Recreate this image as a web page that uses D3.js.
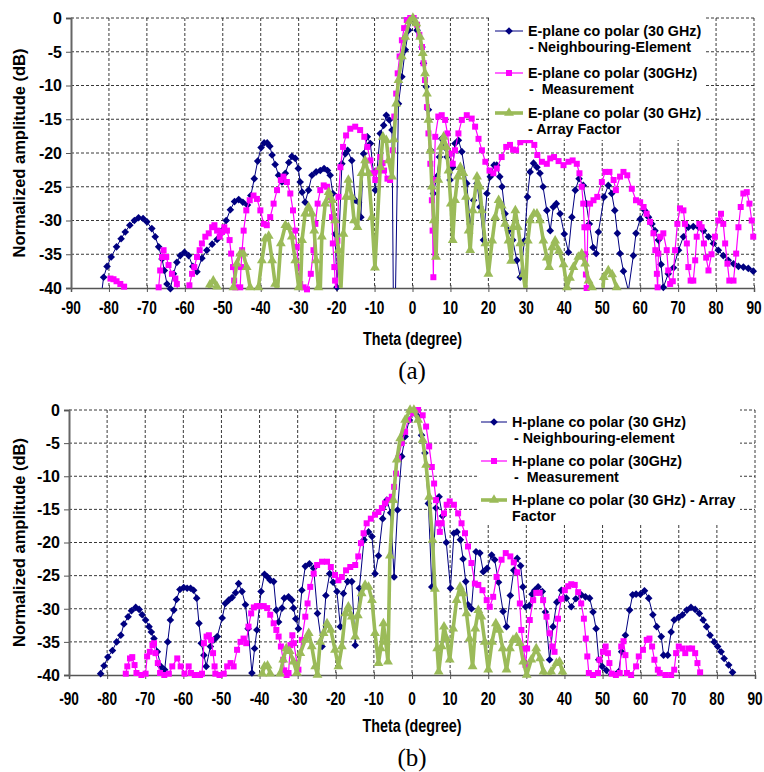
<!DOCTYPE html>
<html>
<head>
<meta charset="utf-8">
<script src="https://cdn.jsdelivr.net/npm/d3@7"></script>
<style>
  body { margin: 0; background: #fff; }
  svg text { font-family: "Liberation Sans", Arial, sans-serif; font-weight: bold; fill: #000; }
  .caption { font-family: "Liberation Serif", "Times New Roman", serif; font-weight: normal; }
</style>
</head>
<body>
<svg id="chart" width="764" height="772"></svg>
<script>
const thetaTicks = d3.range(-90, 91, 10);
const dbTicks = [0, -5, -10, -15, -20, -25, -30, -35, -40];

// (a) E-plane, [theta (deg), amplitude (dB)]
const eNeighbour = [
  [-82.0,-41],[-81.4,-38.4],[-80.5,-36.8],[-79.4,-35.4],[-78.0,-33.9],[-76.8,-32.7],[-75.7,-31.7],
  [-74.5,-30.7],[-73.3,-30.0],[-72.2,-29.6],[-71.0,-29.7],[-70.0,-30.2],[-68.7,-31.2],[-67.8,-32.4],
  [-66.9,-33.9],[-66.0,-35.7],[-65.4,-37.4],[-64.7,-39.4],[-63.8,-40.1],[-63.0,-37.9],[-62.1,-36.2],
  [-61.2,-35.2],[-60.1,-34.7],[-59.0,-35.2],[-57.9,-36.8],[-56.8,-37.6],[-55.5,-35.6],[-54.2,-34.4],
  [-52.8,-33.5],[-51.5,-32.8],[-50.2,-31.5],[-49.1,-30.0],[-48.0,-28.4],[-46.9,-27.2],[-45.8,-26.9],
  [-44.7,-27.3],[-43.5,-27.7],[-42.6,-26.3],[-41.7,-23.8],[-40.8,-21.2],[-39.9,-19.2],[-39.1,-18.5],
  [-38.3,-18.5],[-37.6,-19.0],[-37.0,-20.3],[-36.2,-21.7],[-35.3,-23.3],[-34.4,-24.3],[-33.5,-23.0],
  [-32.6,-21.4],[-31.8,-20.5],[-30.9,-20.8],[-30.1,-22.3],[-29.6,-24.3],[-29.1,-25.8],[-28.3,-27.3],
  [-27.4,-25.5],[-26.5,-23.3],[-25.4,-22.8],[-24.3,-22.6],[-23.3,-22.3],[-22.4,-22.6],[-21.7,-23.3],
  [-21.0,-26.0],[-20.4,-32.0],[-19.9,-39.9],[-18.6,-21.6],[-17.7,-20.1],[-17.1,-19.6],[-16.0,-21.1],
  [-15.1,-27.0],[-14.2,-27.3],[-13.6,-29.5],[-12.9,-20.1],[-11.9,-17.6],[-11.1,-18.6],[-9.8,-25.5],
  [-8.5,-17.1],[-7.6,-15.9],[-6.9,-14.4],[-6.1,-15.1],[-5.4,-16.6],[-5.0,-45],[-4.6,-45],[-3.7,-12.7],
  [-2.8,-8.7],[-1.9,-4.7],[-1.0,-1.8],[-0.2,-0.3],[1.2,-1.8],[2.5,-4.3],[2.9,-6.7],[3.6,-10.2],
  [4.2,-13.6],[4.8,-19.6],[5.5,-26.0],[6.4,-23.5],[7.1,-20.6],[7.7,-17.9],[8.4,-19.1],[9.1,-20.6],
  [9.9,-24.0],[10.6,-22.1],[11.2,-18.6],[12.1,-18.1],[13.0,-19.8],[14.3,-24.5],[15.2,-30.5],
  [16.1,-27.0],[17.0,-24.5],[17.8,-28.0],[18.7,-32.9],[19.6,-26.0],[20.5,-23.5],[21.5,-21.8],
  [22.2,-21.8],[23.0,-23.5],[23.6,-25.0],[24.4,-29.0],[25.3,-31.5],[26.4,-32.9],[27.5,-35.9],
  [28.4,-38.4],[29.5,-33.0],[30.3,-26.5],[31.0,-22.8],[31.9,-21.5],[32.8,-22.1],[33.6,-23.0],
  [34.4,-25.0],[35.4,-28.5],[36.3,-31.5],[37.1,-28.0],[37.9,-27.5],[38.9,-29.0],[40.0,-32.0],
  [41.1,-34.7],[42.0,-29.5],[42.9,-25.5],[43.9,-23.8],[45.0,-24.8],[45.8,-27.5],[46.6,-30.5],
  [47.6,-34.0],[48.4,-34.9],[49.0,-31.7],[50.5,-26.5],[51.6,-24.8],[52.5,-26.0],[53.3,-28.5],
  [54.0,-31.9],[54.7,-34.9],[55.6,-37.5],[56.9,-40.4],[58.2,-35.2],[58.9,-31.9],[60.0,-29.8],
  [61.2,-28.5],[62.2,-29.5],[63.1,-30.5],[63.9,-31.5],[64.8,-32.9],[65.5,-36.5],[66.1,-39.9],
  [67.4,-37.9],[68.8,-37.0],[70.1,-34.4],[71.4,-32.4],[72.7,-31.0],[74.0,-30.9],[75.4,-31.0],
  [76.7,-31.5],[78.0,-32.4],[79.3,-33.4],[80.6,-34.4],[81.9,-35.2],[83.2,-35.9],[84.6,-36.4],
  [85.9,-36.8],[87.2,-36.9],[88.5,-37.1],[89.8,-37.5]
];

const eMeasured = [
  [-79.6,-38.6],[-78.8,-38.7],[-78.0,-39.0],[-77.0,-39.4],[-76.0,-39.8],[-75.2,-42],
  [-67.3,-42],[-66.9,-39.9],[-66.5,-37.4],[-66.0,-35.4],[-65.6,-34.4],[-64.9,-35.4],[-64.3,-36.6],
  [-63.4,-37.9],[-62.5,-38.6],[-62.1,-39.4],[-61.6,-42],
  [-59.2,-42],[-58.8,-39.6],[-58.1,-37.9],[-57.5,-36.9],[-56.8,-35.4],[-56.1,-34.4],[-55.5,-33.4],
  [-54.6,-32.4],[-53.7,-31.9],[-52.8,-31.0],[-52.2,-30.7],[-51.5,-31.5],[-50.8,-32.4],[-50.2,-31.7],
  [-49.6,-31.0],[-48.9,-31.5],[-48.2,-32.9],[-47.8,-34.9],[-47.3,-36.9],[-47.0,-38.9],[-46.7,-39.9],
  [-46.0,-42],[-45.4,-39.9],[-45.2,-36.9],[-44.9,-34.4],[-44.5,-31.5],[-43.8,-28.5],[-42.9,-27.0],
  [-41.9,-26.3],[-41.0,-26.8],[-40.1,-28.5],[-39.2,-30.5],[-38.4,-30.7],[-37.5,-29.5],[-36.6,-27.5],
  [-35.7,-25.5],[-34.7,-24.0],[-34.0,-23.5],[-33.1,-24.3],[-32.2,-26.0],[-31.5,-28.5],[-30.9,-31.5],
  [-30.5,-33.9],[-30.0,-36.9],[-29.6,-39.4],[-29.2,-42],[-28.7,-39.9],[-27.8,-40.2],[-26.8,-37.9],
  [-26.1,-34.4],[-25.6,-30.5],[-25.0,-27.5],[-24.3,-25.5],[-23.4,-24.8],[-22.5,-25.0],[-21.9,-26.5],
  [-21.2,-29.5],[-21.0,-33.4],[-20.6,-36.9],[-20.4,-38.9],[-20.0,-42],[-19.8,-33.0],[-19.5,-26.5],
  [-19.0,-22.1],[-18.3,-19.1],[-17.5,-17.4],[-16.4,-16.4],[-15.1,-16.1],[-13.8,-16.6],[-12.7,-17.6],
  [-11.9,-19.1],[-11.1,-21.1],[-10.4,-23.0],[-9.8,-24.0],[-9.2,-22.6],[-8.5,-20.6],[-7.9,-21.5],
  [-7.5,-22.6],[-6.6,-23.8],[-5.9,-24.0],[-5.2,-19.6],[-4.8,-14.6],[-4.3,-11.2],[-3.9,-8.2],
  [-3.4,-5.7],[-2.8,-3.3],[-2.2,-1.5],[-1.5,-0.3],[-0.6,0],[0.3,0],[1.2,-1.0],[1.8,-2.5],[2.5,-4.3],
  [2.9,-6.7],[3.3,-9.2],[3.8,-13.2],[4.2,-17.1],[4.7,-21.6],[5.1,-27.0],[5.3,-31.5],[5.5,-38.4],
  [5.7,-24.0],[6.0,-17.6],[6.8,-14.6],[7.7,-14.4],[8.6,-15.1],[9.2,-17.1],[9.9,-20.1],[10.6,-21.6],
  [11.2,-19.6],[12.1,-17.1],[13.0,-15.1],[14.3,-14.4],[15.6,-14.9],[16.5,-16.1],[17.4,-17.9],
  [18.3,-19.6],[19.2,-21.3],[20.3,-22.6],[21.3,-23.0],[22.2,-22.3],[23.5,-20.6],[24.7,-19.1],
  [25.7,-18.8],[26.5,-19.5],[27.3,-19.6],[28.4,-18.4],[29.7,-18.1],[31.0,-18.1],[32.1,-18.8],
  [32.9,-20.3],[34.1,-21.3],[35.4,-21.6],[36.3,-20.8],[37.3,-20.6],[38.5,-21.2],[39.8,-21.8],
  [41.1,-21.3],[42.2,-21.1],[43.3,-21.6],[44.0,-23.0],[44.6,-25.0],[45.0,-27.5],[45.3,-31.0],
  [45.5,-35.0],[45.7,-38.0],[45.9,-40.0],[46.2,-31.0],[46.8,-27.5],[47.7,-27.0],[48.7,-26.5],
  [49.9,-24.3],[50.8,-22.8],[51.9,-22.8],[53.0,-24.0],[53.6,-25.5],[54.7,-23.5],[55.6,-22.8],
  [56.6,-23.3],[57.8,-25.3],[58.9,-27.0],[60.0,-27.3],[60.9,-28.0],[61.7,-29.0],[62.6,-30.2],
  [63.5,-31.9],[64.0,-34.4],[64.4,-37.9],[64.6,-39.9],[64.8,-34.9],[65.3,-32.4],[66.1,-31.9],
  [67.0,-34.4],[67.4,-37.4],[67.9,-39.4],[68.6,-39.0],[69.2,-34.4],[69.8,-30.5],[70.5,-28.2],
  [71.4,-28.5],[71.8,-30.5],[72.3,-33.4],[72.7,-36.9],[73.3,-38.9],[74.0,-38.9],[74.5,-35.9],
  [74.9,-32.4],[75.6,-30.5],[76.2,-31.0],[76.8,-33.4],[77.4,-35.5],[78.0,-37.4],[78.8,-35.0],
  [79.7,-32.4],[80.6,-30.0],[81.3,-29.0],[81.9,-30.5],[82.4,-33.4],[83.0,-36.4],[83.5,-38.9],
  [84.6,-38.9],[85.3,-34.9],[85.9,-31.0],[86.5,-28.0],[87.2,-26.0],[88.1,-25.8],[88.8,-27.5],
  [89.4,-30.0],[89.8,-32.4]
];

const eArray = [
  [-53.9,-42],[-53.4,-39.5],[-52.5,-38.9],[-51.5,-39.8],[-51.0,-42],
  [-47.5,-42],[-47.2,-39.9],[-46.3,-36.4],[-45.4,-34.9],[-44.6,-34.9],[-43.7,-36.9],[-42.8,-39.9],
  [-42.4,-42],[-41.0,-42],[-40.6,-39.9],[-39.7,-35.9],[-38.8,-32.7],[-37.9,-32.3],[-37.0,-35.9],
  [-36.2,-39.4],[-35.6,-40.5],[-34.7,-33.4],[-33.5,-30.7],[-32.7,-31.0],[-31.8,-32.4],[-30.9,-35.9],
  [-30.0,-39.9],[-29.6,-42],[-29.1,-32.9],[-28.3,-29.0],[-27.4,-28.0],[-26.5,-29.0],[-25.9,-31.5],
  [-25.4,-35.9],[-24.8,-39.9],[-24.4,-42],[-23.9,-32.4],[-23.0,-27.5],[-22.1,-25.8],[-21.2,-27.0],
  [-20.4,-30.0],[-19.5,-34.4],[-18.9,-40.5],[-18.2,-32.0],[-17.5,-26.5],[-16.9,-24.0],[-16.0,-26.5],
  [-15.4,-30.0],[-14.5,-31.0],[-13.4,-23.0],[-12.5,-21.1],[-11.6,-23.0],[-10.7,-29.5],[-9.9,-37.0],
  [-8.5,-22.1],[-7.8,-17.6],[-6.9,-18.1],[-6.3,-21.1],[-5.4,-23.5],[-4.9,-18.0],[-4.3,-12.7],
  [-3.7,-9.2],[-2.8,-5.7],[-1.9,-2.8],[-0.8,-0.5],[0.1,0],[1.0,-0.8],[2.0,-2.8],[2.7,-5.2],
  [3.3,-8.2],[3.8,-11.2],[4.2,-15.1],[4.7,-19.6],[5.1,-25.0],[5.6,-30.0],[6.2,-35.4],[6.8,-24.0],
  [7.5,-19.1],[8.2,-17.6],[8.9,-19.1],[9.5,-22.6],[10.1,-27.5],[10.6,-32.9],[11.2,-27.0],
  [11.9,-23.5],[12.6,-22.1],[13.4,-23.0],[14.1,-26.5],[14.8,-31.5],[15.2,-34.4],[15.9,-28.5],
  [17.0,-23.5],[17.7,-25.0],[18.3,-28.5],[19.2,-33.4],[20.0,-37.9],[21.0,-33.0],[21.8,-29.5],
  [22.7,-27.0],[23.5,-27.8],[24.4,-30.5],[25.3,-33.0],[26.0,-36.0],[26.5,-31.0],[27.1,-28.5],
  [27.8,-31.0],[28.4,-33.4],[29.2,-38.0],[29.8,-40.5],[30.4,-33.0],[31.0,-30.0],[32.0,-29.0],
  [32.8,-29.0],[33.6,-30.0],[34.5,-33.0],[35.4,-35.5],[36.0,-36.9],[36.8,-34.0],[37.6,-33.0],
  [38.6,-34.5],[39.8,-36.5],[40.7,-39.9],[41.5,-38.5],[42.4,-36.9],[43.7,-35.4],[44.6,-34.9],
  [45.5,-36.4],[46.4,-38.9],[47.3,-39.9],[48.0,-42],[50.0,-42],[50.4,-38.4],[51.6,-37.4],
  [52.6,-38.0],[53.8,-39.9],[54.2,-42]
];

// (b) H-plane, [theta (deg), amplitude (dB)]
const hNeighbour = [
  [-82.5,-41],[-81.7,-39.8],[-80.8,-38.6],[-79.8,-37.3],[-78.6,-36.3],[-77.5,-35.0],[-76.4,-34.0],
  [-75.6,-32.3],[-74.5,-31.2],[-73.6,-30.3],[-72.5,-29.8],[-71.6,-30.1],[-70.8,-30.9],[-69.9,-31.7],
  [-69.0,-32.7],[-68.4,-33.5],[-67.7,-34.5],[-66.8,-36.5],[-65.9,-38.7],[-64.9,-39.2],[-64.1,-35.0],
  [-63.4,-31.7],[-62.5,-30.2],[-61.8,-28.6],[-60.9,-27.1],[-59.9,-26.8],[-59.0,-26.9],[-58.1,-26.9],
  [-57.3,-27.2],[-56.5,-28.4],[-55.9,-32.2],[-55.3,-35.2],[-54.6,-37.0],[-54.0,-38.7],[-52.9,-35.7],
  [-52.0,-34.7],[-51.1,-34.2],[-49.8,-31.4],[-49.0,-29.2],[-48.1,-28.7],[-47.2,-28.3],[-46.3,-27.6],
  [-45.5,-26.2],[-44.6,-27.4],[-43.7,-29.4],[-43.0,-33.0],[-42.0,-39.7],[-41.3,-36.0],[-40.7,-33.2],
  [-39.6,-27.4],[-38.7,-24.8],[-37.9,-25.2],[-37.2,-25.7],[-36.3,-25.9],[-35.6,-30.2],[-35.0,-32.0],
  [-34.1,-29.9],[-33.5,-28.4],[-32.4,-28.2],[-31.5,-28.7],[-31.1,-29.9],[-30.5,-31.5],[-29.8,-33.0],
  [-28.9,-27.2],[-28.0,-23.6],[-26.9,-23.2],[-25.8,-23.9],[-24.8,-30.7],[-23.6,-35.7],[-22.6,-28.0],
  [-21.6,-24.7],[-20.7,-26.0],[-19.7,-27.4],[-18.8,-32.7],[-18.0,-27.7],[-16.9,-25.9],[-15.8,-25.9],
  [-14.9,-35.5],[-13.8,-26.9],[-12.6,-19.6],[-11.4,-18.4],[-10.5,-19.1],[-9.7,-24.7],[-8.8,-22.0],
  [-7.7,-16.4],[-6.6,-13.6],[-5.6,-15.5],[-4.7,-25.2],[-3.8,-15.1],[-2.7,-7.0],[-1.8,-4.0],
  [-0.7,-1.5],[0.3,-0.3],[1.6,-1.0],[2.5,-3.8],[3.4,-6.5],[4.3,-14.1],[5.2,-26.7],[6.3,-14.8],
  [7.1,-13.1],[8.0,-16.0],[9.0,-20.0],[10.1,-26.9],[11.0,-18.6],[11.8,-18.4],[12.7,-19.6],
  [13.4,-22.5],[14.1,-25.9],[14.7,-29.4],[15.6,-30.0],[16.8,-21.4],[17.8,-21.6],[18.7,-24.4],
  [19.7,-23.9],[20.9,-21.9],[21.7,-22.6],[22.7,-26.0],[23.9,-30.4],[24.8,-32.7],[25.8,-28.0],
  [26.7,-24.2],[27.6,-22.4],[28.5,-23.5],[29.1,-26.7],[29.8,-29.7],[30.8,-29.5],[31.5,-27.8],
  [32.2,-27.2],[33.1,-26.7],[34.2,-27.4],[35.0,-30.5],[36.1,-37.7],[37.0,-32.7],[38.0,-29.0],
  [39.2,-27.2],[40.5,-28.4],[41.8,-29.7],[43.0,-28.5],[44.4,-27.9],[45.5,-28.2],[46.6,-28.4],
  [47.5,-30.5],[48.3,-33.0],[49.0,-37.7],[49.9,-38.7],[51.0,-39.3],[52.5,-41],[54.2,-39.5],
  [55.0,-36.5],[56.0,-34.0],[57.1,-30.2],[57.9,-27.9],[58.8,-27.8],[59.9,-27.8],[61.0,-27.3],
  [62.1,-28.4],[63.2,-30.9],[64.2,-32.7],[65.4,-34.2],[66.0,-37.0],[67.1,-37.0],[68.0,-33.5],
  [68.8,-31.7],[70.0,-31.3],[71.0,-30.9],[72.1,-30.2],[73.2,-29.8],[74.3,-30.1],[75.4,-30.7],
  [76.4,-31.7],[77.3,-32.7],[78.2,-34.0],[79.3,-35.0],[80.2,-35.7],[81.1,-36.5],[81.9,-37.5],
  [83.1,-38.5],[84.1,-39.6],[85.0,-41]
];

const hMeasured = [
  [-75.6,-42],[-75.1,-39.8],[-74.7,-38.7],[-74.0,-37.5],[-73.4,-37.3],[-72.8,-38.5],[-72.3,-39.7],
  [-71.0,-40.0],[-69.9,-39.8],[-69.5,-37.2],[-68.8,-36.5],[-68.1,-35.5],[-67.7,-35.2],[-67.3,-36.7],
  [-66.7,-38.2],[-66.1,-39.7],[-65.0,-40.0],[-63.8,-39.8],[-62.9,-38.7],[-61.6,-37.5],[-60.7,-38.7],
  [-59.7,-39.8],[-58.6,-38.7],[-58.0,-39.7],[-57.0,-40.0],[-55.6,-40.0],[-55.1,-39.8],[-54.6,-35.2],
  [-53.9,-34.2],[-53.3,-34.0],[-52.7,-34.7],[-52.2,-36.7],[-51.8,-38.7],[-51.6,-39.8],[-50.5,-40.0],
  [-49.4,-39.8],[-48.5,-38.7],[-47.6,-38.2],[-46.8,-38.7],[-45.9,-36.2],[-45.0,-35.0],[-44.2,-34.5],
  [-43.5,-35.2],[-42.9,-32.7],[-42.2,-30.7],[-41.5,-29.8],[-40.7,-29.6],[-39.8,-29.6],[-38.9,-29.6],
  [-38.0,-29.9],[-37.2,-30.9],[-36.3,-32.2],[-35.6,-33.2],[-35.0,-34.2],[-34.4,-35.7],[-33.8,-37.7],
  [-33.5,-39.3],[-32.9,-40.0],[-32.4,-39.7],[-31.9,-35.5],[-31.4,-34.0],[-31.0,-35.2],[-30.2,-38.2],
  [-29.8,-39.2],[-28.9,-34.7],[-28.0,-31.2],[-27.4,-29.2],[-26.7,-26.7],[-25.8,-24.7],[-24.9,-23.4],
  [-23.6,-22.9],[-22.3,-22.9],[-21.3,-23.7],[-20.2,-24.9],[-19.3,-25.7],[-18.4,-25.2],[-17.3,-24.2],
  [-16.2,-23.7],[-14.9,-23.4],[-14.1,-22.1],[-13.4,-20.1],[-12.7,-18.6],[-11.9,-17.1],[-10.8,-16.4],
  [-9.7,-15.8],[-8.8,-15.4],[-7.9,-14.8],[-7.1,-14.1],[-6.2,-13.6],[-5.3,-13.1],[-4.7,-11.6],
  [-4.2,-9.6],[-3.6,-7.3],[-2.7,-5.0],[-1.8,-3.3],[-1.0,-1.5],[0.3,-0.5],[1.6,0],[2.8,-0.8],
  [3.7,-2.5],[4.5,-5.5],[5.2,-8.6],[5.8,-11.1],[6.3,-13.6],[6.9,-17.1],[7.3,-18.4],[7.8,-17.1],
  [8.4,-15.6],[9.1,-14.3],[9.9,-13.8],[11.0,-14.3],[12.1,-15.6],[13.0,-17.1],[13.9,-18.6],
  [14.7,-20.6],[15.6,-23.1],[16.5,-26.2],[17.4,-26.4],[18.5,-27.2],[19.6,-28.7],[20.4,-29.7],
  [21.3,-28.2],[22.2,-25.2],[23.5,-22.6],[24.6,-21.6],[25.8,-22.1],[26.7,-23.0],[27.6,-24.5],
  [28.3,-29.2],[28.7,-33.2],[29.3,-36.0],[29.8,-38.5],[30.2,-36.0],[30.9,-31.7],[31.8,-28.7],
  [32.6,-27.6],[33.5,-27.6],[34.4,-28.7],[35.3,-31.2],[36.1,-33.7],[36.8,-35.7],[37.4,-36.5],
  [38.3,-31.5],[39.2,-28.5],[40.1,-27.2],[41.0,-26.6],[41.8,-26.3],[42.7,-26.4],[43.6,-27.5],
  [44.4,-29.2],[45.1,-31.5],[45.6,-34.5],[46.0,-37.2],[46.4,-39.7],[47.5,-40.0],[48.8,-39.7],
  [49.2,-37.7],[50.1,-36.5],[50.8,-35.7],[51.4,-36.7],[51.8,-38.2],[52.4,-39.8],[53.5,-40.0],
  [54.5,-39.7],[54.9,-35.7],[55.5,-34.9],[56.0,-37.0],[56.4,-39.7],[57.5,-40.0],[58.8,-38.7],
  [59.5,-37.2],[60.6,-36.2],[61.6,-34.7],[62.3,-34.5],[63.0,-35.7],[63.6,-37.7],[64.5,-39.2],
  [65.0,-39.7],[66.5,-40.0],[68.0,-40.0],[68.8,-39.2],[69.3,-36.7],[70.0,-35.7],[71.0,-36.0],
  [71.7,-36.7],[72.6,-36.0],[73.5,-36.0],[74.3,-36.7],[74.9,-38.2],[75.6,-39.6]
];

const hArray = [
  [-40.0,-42],[-39.3,-39.8],[-38.7,-38.7],[-37.9,-38.6],[-37.2,-39.8],[-36.0,-42],[-34.6,-39.8],
  [-33.8,-37.7],[-33.0,-36.0],[-32.1,-36.4],[-31.1,-38.0],[-30.2,-39.7],[-29.3,-36.7],[-28.0,-34.7],
  [-27.1,-33.7],[-26.3,-35.7],[-25.4,-38.7],[-24.8,-40.0],[-24.1,-35.0],[-23.2,-33.7],[-22.3,-32.2],
  [-21.3,-33.2],[-20.2,-36.2],[-19.3,-38.7],[-18.4,-35.7],[-17.5,-30.7],[-16.7,-29.7],[-15.8,-31.2],
  [-14.9,-34.2],[-14.2,-31.0],[-13.2,-27.7],[-12.3,-26.4],[-11.4,-26.7],[-10.5,-28.7],[-9.7,-33.7],
  [-8.8,-38.2],[-8.2,-36.0],[-7.5,-32.2],[-6.9,-35.0],[-6.3,-38.0],[-5.8,-22.0],[-4.9,-13.6],
  [-4.0,-7.5],[-3.1,-4.3],[-1.8,-1.5],[-0.5,0],[0.5,0],[1.6,-1.5],[2.8,-4.5],[3.7,-8.3],[4.5,-13.1],
  [5.4,-19.6],[6.0,-27.0],[6.6,-36.0],[7.0,-39.5],[7.8,-35.7],[8.4,-32.7],[9.1,-34.5],[9.9,-37.7],
  [10.8,-33.0],[11.7,-28.7],[12.6,-26.7],[13.4,-27.7],[14.3,-30.7],[15.1,-34.5],[15.9,-38.7],
  [16.6,-33.0],[17.4,-30.2],[18.2,-31.2],[19.1,-35.0],[20.0,-39.2],[21.0,-35.0],[22.0,-32.2],
  [22.9,-33.2],[23.8,-36.0],[24.8,-39.2],[25.7,-36.0],[26.5,-34.7],[27.4,-34.3],[28.3,-35.2],
  [29.2,-38.0],[30.1,-40.0],[31.3,-37.7],[32.6,-36.0],[33.6,-37.5],[34.5,-39.5],[35.3,-41],
  [36.5,-39.5],[37.9,-38.2],[38.7,-38.0],[39.5,-39.5],[40.2,-42]
];

const legendA = [
  ["E-plane co polar (30 GHz)", "- Neighbouring-Element"],
  ["E-plane co polar (30GHz)", "-  Measurement"],
  ["E-plane co polar (30 GHz)", "- Array Factor"]
];
const legendB = [
  ["H-plane co polar (30 GHz)", "- Neighbouring-element"],
  ["H-plane co polar (30GHz)", "-  Measurement"],
  ["H-plane co polar (30 GHz) - Array", "Factor"]
];

const NAVY = "#000080", MAGENTA = "#ff00ff", OLIVE = "#9bbb59";

const styles = [
  { color: NAVY, width: 1, marker: "diamond" },
  { color: MAGENTA, width: 1.2, marker: "square" },
  { color: OLIVE, width: 3.6, marker: "triangle" }
];

const markerPath = {
  diamond: "M0,-3.8L3.8,0L0,3.8L-3.8,0Z",
  square: "M-3,-3H3V3H-3Z",
  triangle: d3.symbol(d3.symbolTriangle, 42)()
};

const panels = [
  {
    id: "a", left: 71, right: 754, top: 18, bottom: 288,
    series: [eNeighbour, eMeasured, eArray], legend: legendA,
    legendBox: [490, 12, 216, 128], legendRows: [31, 73, 113], legendLine: [495, 523], legendText: 528,
    tickY: 314, titleY: 345, caption: "(a)", captionY: 379
  },
  {
    id: "b", left: 69, right: 755, top: 410, bottom: 675,
    series: [hNeighbour, hMeasured, hArray], legend: legendB,
    legendBox: [478, 403, 262, 122], legendRows: [422, 461, 500], legendLine: [481, 507], legendText: 512,
    tickY: 705, titleY: 732, caption: "(b)", captionY: 766
  }
];

const svg = d3.select("#chart");
svg.append("rect").attr("width", 764).attr("height", 772).attr("fill", "#fff");

panels.forEach(p => {
  const x = d3.scaleLinear().domain([-90, 90]).range([p.left, p.right]);
  const y = d3.scaleLinear().domain([-40, 0]).range([p.bottom, p.top]);
  const g = svg.append("g");

  g.append("clipPath").attr("id", "clip-" + p.id)
    .append("rect")
    .attr("x", p.left).attr("y", p.top - 1)
    .attr("width", p.right - p.left).attr("height", p.bottom - p.top + 1);

  // gridlines
  g.append("g").selectAll("line").data(thetaTicks.filter(t => t > -90))
    .join("line")
    .attr("x1", d => x(d)).attr("x2", d => x(d))
    .attr("y1", p.top).attr("y2", p.bottom)
    .attr("stroke", "#222").attr("stroke-width", 0.9).attr("stroke-dasharray", "3,2");
  g.append("g").selectAll("line").data(dbTicks.filter(t => t > -40))
    .join("line")
    .attr("x1", p.left).attr("x2", p.right)
    .attr("y1", d => y(d)).attr("y2", d => y(d))
    .attr("stroke", "#222").attr("stroke-width", 0.9).attr("stroke-dasharray", "3,2");

  // axes
  const xAxis = g.append("g").attr("transform", `translate(0,${p.bottom})`)
    .call(d3.axisBottom(x).tickValues(thetaTicks).tickSize(4).tickFormat(""));
  xAxis.select(".domain").attr("stroke", "#555").attr("stroke-width", 1.5);
  xAxis.selectAll(".tick line").attr("stroke", "#555").attr("y1", -3);

  const yAxis = g.append("g").attr("transform", `translate(${p.left},0)`)
    .call(d3.axisLeft(y).tickValues(dbTicks).tickSize(5).tickFormat(""));
  yAxis.select(".domain").attr("stroke", "#666").attr("stroke-width", 2);
  yAxis.selectAll(".tick line").attr("stroke", "#555");

  g.append("g").selectAll("text").data(dbTicks)
    .join("text")
    .attr("x", p.left - 9).attr("y", d => y(d)).attr("dy", "0.36em")
    .attr("text-anchor", "end").attr("font-size", 16)
    .text(d => d);

  // theta labels: condensed bold face, squeezed horizontally
  g.append("g").selectAll("text").data(thetaTicks)
    .join("text")
    .attr("transform", d => `translate(${x(d)},${p.tickY}) scale(0.78,1)`)
    .attr("text-anchor", "middle").attr("font-size", 17.5)
    .text(d => d);

  g.append("text")
    .attr("transform", `translate(${x(0)},${p.titleY}) scale(0.82,1)`)
    .attr("text-anchor", "middle").attr("font-size", 17.5)
    .text("Theta (degree)");

  g.append("text")
    .attr("transform", `translate(19,${(p.top + p.bottom) / 2}) rotate(-90)`)
    .attr("dy", "0.36em")
    .attr("text-anchor", "middle").attr("font-size", 16.5)
    .text("Normalized amplitude (dB)");

  g.append("text").attr("class", "caption")
    .attr("x", 412).attr("y", p.captionY)
    .attr("text-anchor", "middle").attr("font-size", 25)
    .text(p.caption);

  // series
  const line = d3.line().x(d => x(d[0])).y(d => y(d[1]));
  p.series.forEach((data, i) => {
    const s = styles[i];
    const sg = g.append("g");
    sg.append("path")
      .datum(data)
      .attr("clip-path", `url(#clip-${p.id})`)
      .attr("fill", "none")
      .attr("stroke", s.color)
      .attr("stroke-width", s.width)
      .attr("stroke-linejoin", "round")
      .attr("d", line);
    sg.selectAll("path.m")
      .data(data.filter(d => d[1] >= -40.3))
      .join("path")
      .attr("class", "m")
      .attr("transform", d => `translate(${x(d[0])},${y(d[1])})`)
      .attr("d", markerPath[s.marker])
      .attr("fill", s.color);
  });

  // legend
  const [lx, ly, lw, lh] = p.legendBox;
  const lg = g.append("g");
  lg.append("rect").attr("x", lx).attr("y", ly).attr("width", lw).attr("height", lh).attr("fill", "#fff");
  p.legend.forEach((rows, i) => {
    const s = styles[i];
    const cy = p.legendRows[i];
    lg.append("line")
      .attr("x1", p.legendLine[0]).attr("x2", p.legendLine[1])
      .attr("y1", cy).attr("y2", cy)
      .attr("stroke", s.color).attr("stroke-width", s.width);
    lg.append("path")
      .attr("transform", `translate(${(p.legendLine[0] + p.legendLine[1]) / 2},${cy})`)
      .attr("d", markerPath[s.marker])
      .attr("fill", s.color);
    rows.forEach((t, j) => {
      lg.append("text")
        .attr("x", p.legendText + (j === 1 && i < 2 ? (p.id === "b" ? 2 : 1) : 0))
        .attr("y", cy + j * 16).attr("dy", "0.36em")
        .attr("font-size", 14.3)
        .style("white-space", "pre")
        .text(t);
    });
  });
});
</script>
</body>
</html>
